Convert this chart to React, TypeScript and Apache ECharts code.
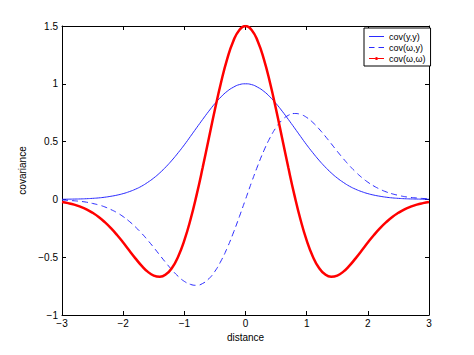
import React, { useEffect, useRef } from "react";
import * as echarts from "echarts";

const xs = [
  -3.0, -2.9, -2.8, -2.7, -2.6, -2.5, -2.4, -2.3, -2.2, -2.1, -2.0, -1.9, -1.8, -1.7, -1.6, -1.5, -1.4, -1.3, -1.2, -1.1,
  -1.0, -0.9, -0.8, -0.7, -0.6, -0.5, -0.4, -0.3, -0.2, -0.1, 0.0, 0.1, 0.2, 0.3, 0.4, 0.5, 0.6, 0.7, 0.8, 0.9, 1.0,
  1.1, 1.2, 1.3, 1.4, 1.5, 1.6, 1.7, 1.8, 1.9, 2.0, 2.1, 2.2, 2.3, 2.4, 2.5, 2.6, 2.7, 2.8, 2.9, 3.0,
];

const covYY = [
  0.001, 0.002, 0.003, 0.004, 0.006, 0.009, 0.013, 0.019, 0.027, 0.037, 0.05, 0.067, 0.088, 0.114, 0.147, 0.185, 0.23,
  0.282, 0.34, 0.404, 0.472, 0.545, 0.619, 0.692, 0.763, 0.829, 0.887, 0.935, 0.97, 0.993, 1.0, 0.993, 0.97, 0.935,
  0.887, 0.829, 0.763, 0.692, 0.619, 0.545, 0.472, 0.404, 0.34, 0.282, 0.23, 0.185, 0.147, 0.114, 0.088, 0.067, 0.05,
  0.037, 0.027, 0.019, 0.013, 0.009, 0.006, 0.004, 0.003, 0.002, 0.001,
];

const covWY = [
  -0.005, -0.008, -0.012, -0.017, -0.024, -0.035, -0.048, -0.065, -0.088, -0.115, -0.149, -0.19, -0.238, -0.292, -0.352,
  -0.416, -0.483, -0.549, -0.611, -0.666, -0.709, -0.735, -0.743, -0.727, -0.687, -0.622, -0.532, -0.421, -0.291, -0.149,
  0.0, 0.149, 0.291, 0.421, 0.532, 0.622, 0.687, 0.727, 0.743, 0.735, 0.709, 0.666, 0.611, 0.549, 0.483, 0.416, 0.352,
  0.292, 0.238, 0.19, 0.149, 0.115, 0.088, 0.065, 0.048, 0.035, 0.024, 0.017, 0.012, 0.008, 0.005,
];

const covWW = [
  -0.022, -0.032, -0.045, -0.063, -0.086, -0.116, -0.152, -0.197, -0.249, -0.308, -0.373, -0.442, -0.51, -0.573, -0.625,
  -0.659, -0.669, -0.648, -0.591, -0.493, -0.354, -0.176, 0.037, 0.275, 0.527, 0.777, 1.011, 1.213, 1.368, 1.466, 1.5,
  1.466, 1.368, 1.213, 1.011, 0.777, 0.527, 0.275, 0.037, -0.176, -0.354, -0.493, -0.591, -0.648, -0.669, -0.659,
  -0.625, -0.573, -0.51, -0.442, -0.373, -0.308, -0.249, -0.197, -0.152, -0.116, -0.086, -0.063, -0.045, -0.032, -0.022,
];

const seriesNames = ["cov(y,y)", "cov(\u03c9,y)", "cov(\u03c9,\u03c9)"];
const xTicks = [-3, -2, -1, 0, 1, 2, 3];
const yTicks = [-1, -0.5, 0, 0.5, 1, 1.5];

const FONT = "Liberation Sans, Arial, Helvetica, sans-serif";
const BLUE = "#2a2aff";
const RED = "#ff0000";

const fmt = (v: number) => String(v).replace("-", "\u2212");

// legend icons in a 15x8 box; tiny corner marks fix the bounding box
const CORNERS = "M0,0L0.02,0L0,0.02Z M15,8L14.98,8L15,7.98Z ";
const ICON_SOLID = "path://" + CORNERS + "M0,3.5L15,3.5L15,4.5L0,4.5Z";
const ICON_DASH = "path://" + CORNERS + "M0,3.5L5.5,3.5L5.5,4.5L0,4.5Z M9.5,3.5L15,3.5L15,4.5L9.5,4.5Z";
const ICON_DOT =
  "path://" +
  CORNERS +
  "M0,3.5L6,3.5L6,4.5L0,4.5Z M9,3.5L15,3.5L15,4.5L9,4.5Z M6,4A1.5,1.5 0 1,1 9,4A1.5,1.5 0 1,1 6,4Z";

export default function App() {
  const ref = useRef<HTMLDivElement>(null);
  useEffect(() => {
    if (!ref.current) return;
    const chart = echarts.init(ref.current, undefined, { renderer: "svg" });
    const pair = (ys: number[]) => xs.map((x, i) => [x, ys[i]]);
    const axisCommon = {
      axisLine: { show: true, onZero: false, lineStyle: { color: "#000", width: 1 } },
      axisTick: { show: true, inside: true, length: 4, lineStyle: { color: "#000" } },
      splitLine: { show: false },
    };
    const iconStyle = (c: string) => ({ color: c, borderWidth: 0, borderColor: "transparent" });
    const iconLine = { width: 0, color: "transparent" };
    chart.setOption({
      animation: false,
      backgroundColor: "#fff",
      grid: { left: 62, right: 45, top: 26, bottom: 40, containLabel: false },
      legend: {
        show: true,
        orient: "vertical",
        left: 364,
        top: 28,
        data: [
          { name: seriesNames[0], icon: ICON_SOLID, itemStyle: iconStyle(BLUE), lineStyle: iconLine },
          { name: seriesNames[1], icon: ICON_DASH, itemStyle: iconStyle(BLUE), lineStyle: iconLine },
          { name: seriesNames[2], icon: ICON_DOT, itemStyle: iconStyle(RED), lineStyle: iconLine },
        ],
        itemWidth: 15,
        itemHeight: 8,
        itemGap: 2,
        padding: [4, 5, 3, 5],
        borderColor: "#000",
        borderWidth: 1,
        backgroundColor: "#fff",
        textStyle: { fontFamily: FONT, fontSize: 9, color: "#000", padding: [0, 0, 0, 0] },
      },
      xAxis: [
        {
          type: "value",
          min: -3,
          max: 3,
          interval: 1,
          position: "bottom",
          name: "distance",
          nameLocation: "middle",
          nameGap: 16,
          nameTextStyle: { fontFamily: FONT, fontSize: 10, color: "#000" },
          axisLabel: {
            fontFamily: FONT,
            fontSize: 10,
            color: "#000",
            margin: 3,
            formatter: (v: number) => (xTicks.includes(v) ? fmt(v) : ""),
          },
          ...axisCommon,
        },
        {
          type: "value",
          min: -3,
          max: 3,
          interval: 1,
          position: "top",
          axisLabel: { show: false },
          ...axisCommon,
        },
      ],
      yAxis: [
        {
          type: "value",
          min: -1,
          max: 1.5,
          interval: 0.5,
          position: "left",
          name: "covariance",
          nameLocation: "middle",
          nameGap: 24,
          nameRotate: 90,
          nameTextStyle: { fontFamily: FONT, fontSize: 10, color: "#000" },
          axisLabel: {
            fontFamily: FONT,
            fontSize: 10,
            color: "#000",
            margin: 4,
            formatter: (v: number) => (yTicks.includes(v) ? fmt(v) : ""),
          },
          ...axisCommon,
        },
        {
          type: "value",
          min: -1,
          max: 1.5,
          interval: 0.5,
          position: "right",
          axisLabel: { show: false },
          ...axisCommon,
        },
      ],
      series: [
        {
          name: seriesNames[0],
          type: "line",
          data: pair(covYY),
          smooth: true,
          showSymbol: false,
          symbol: "none",
          lineStyle: { color: BLUE, width: 1 },
          itemStyle: { color: BLUE },
          z: 3,
        },
        {
          name: seriesNames[1],
          type: "line",
          data: pair(covWY),
          smooth: true,
          showSymbol: false,
          symbol: "none",
          lineStyle: { color: BLUE, width: 1, type: [6, 4] },
          itemStyle: { color: BLUE },
          z: 3,
        },
        {
          name: seriesNames[2],
          type: "line",
          data: pair(covWW),
          smooth: true,
          showSymbol: false,
          symbol: "none",
          lineStyle: { color: RED, width: 2.5 },
          itemStyle: { color: RED },
          z: 4,
        },
      ],
    });
    return () => chart.dispose();
  }, []);
  return <div ref={ref} style={{ width: 474, height: 355, position: "absolute", left: 0, top: 0 }} />;
}
